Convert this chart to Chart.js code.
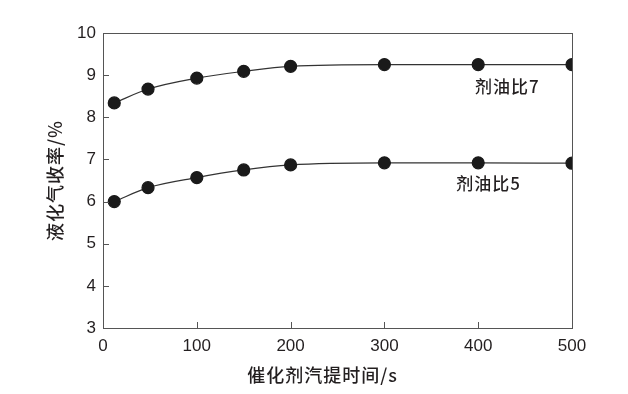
<!DOCTYPE html>
<html lang="zh">
<head>
    <meta charset="UTF-8">
    <title>液化气收率</title>
    <style>
        body { margin: 0; padding: 0; background: #fff; }
        #wrap { width: 628px; height: 394px; position: relative; }
    </style>
    <script src="https://cdn.jsdelivr.net/npm/chart.js"></script>
</head>
<body>
    <div id="wrap"><canvas id="c"></canvas></div>
    <script>
        // 数据
        const times = [12, 48, 100, 150, 200, 300, 400, 500];
        const ratio7 = [8.34, 8.67, 8.93, 9.09, 9.21, 9.25, 9.25, 9.25];
        const ratio5 = [6.0, 6.33, 6.57, 6.75, 6.87, 6.92, 6.92, 6.91];
        const seriesNames = ['剂油比7', '剂油比5'];
        const labelAnchors = [[431, 8.74], [411, 6.43]];
        const xTicks = [0, 100, 200, 300, 400, 500];
        const yTicks = [3, 4, 5, 6, 7, 8, 9, 10];
        const xTitle = '催化剂汽提时间/s';
        const yTitle = '液化气收率/%';

        const toPoints = ys => times.map((t, i) => ({ x: t, y: ys[i] }));
        const font = "Arial, 'Liberation Sans', sans-serif";
        const cjk = "'Noto Sans CJK SC', sans-serif";
        const ink = '#231f20';

        // 边框、内向刻度、轴标题和曲线标注
        const frame = {
            id: 'frame',
            afterDraw(chart) {
                const { ctx, chartArea: a, scales: { x, y } } = chart;
                ctx.save();
                ctx.strokeStyle = '#555';
                ctx.lineWidth = 1;
                ctx.strokeRect(a.left + 0.5, a.top + 0.5, a.right - a.left, a.bottom - a.top);
                ctx.beginPath();
                yTicks.slice(1, -1).forEach(v => {
                    const p = Math.round(y.getPixelForValue(v)) + 0.5;
                    ctx.moveTo(a.left, p); ctx.lineTo(a.left + 6, p);
                });
                xTicks.slice(1, -1).forEach(v => {
                    const p = Math.round(x.getPixelForValue(v)) + 0.5;
                    ctx.moveTo(p, a.bottom); ctx.lineTo(p, a.bottom - 6);
                });
                ctx.stroke();

                ctx.fillStyle = ink;
                ctx.textAlign = 'center';
                ctx.textBaseline = 'middle';
                ctx.letterSpacing = '1px';
                ctx.font = '500 17px ' + cjk;
                seriesNames.forEach((n, i) => {
                    ctx.fillText(n, x.getPixelForValue(labelAnchors[i][0]), y.getPixelForValue(labelAnchors[i][1]));
                });
                ctx.font = '500 18px ' + cjk;
                ctx.fillText(xTitle, (a.left + a.right) / 2 - 15, 375);
                ctx.translate(55, (a.top + a.bottom) / 2);
                ctx.rotate(-Math.PI / 2);
                ctx.fillText(yTitle, 0, 0);
                ctx.restore();
            }
        };

        const ds = ys => ({
            data: toPoints(ys),
            showLine: true,
            borderColor: '#333',
            borderWidth: 1.2,
            cubicInterpolationMode: 'monotone',
            pointRadius: 6,
            pointBackgroundColor: '#1a1a1a',
            pointBorderColor: '#1a1a1a'
        });

        new Chart(document.getElementById('c'), {
            type: 'scatter',
            data: { datasets: [ds(ratio7), ds(ratio5)] },
            plugins: [frame],
            options: {
                responsive: true,
                maintainAspectRatio: false,
                animation: false,
                layout: { padding: { left: 0, right: 56, top: 33, bottom: 0 } },
                plugins: { legend: { display: false }, tooltip: { enabled: false } },
                scales: {
                    x: {
                        min: 0, max: 500,
                        afterBuildTicks: s => { s.ticks = xTicks.map(v => ({ value: v })); },
                        grid: { display: false, drawTicks: false },
                        border: { display: false },
                        ticks: { color: ink, font: { size: 17, family: font }, padding: 8, maxRotation: 0 },
                        afterFit: s => { s.height = 66; }
                    },
                    y: {
                        min: 3, max: 10,
                        afterBuildTicks: s => { s.ticks = yTicks.map(v => ({ value: v })); },
                        grid: { display: false, drawTicks: false },
                        border: { display: false },
                        ticks: { color: ink, font: { size: 17, family: font }, padding: 7 },
                        afterFit: s => { s.width = 103; }
                    }
                }
            }
        });
    </script>
</body>
</html>
